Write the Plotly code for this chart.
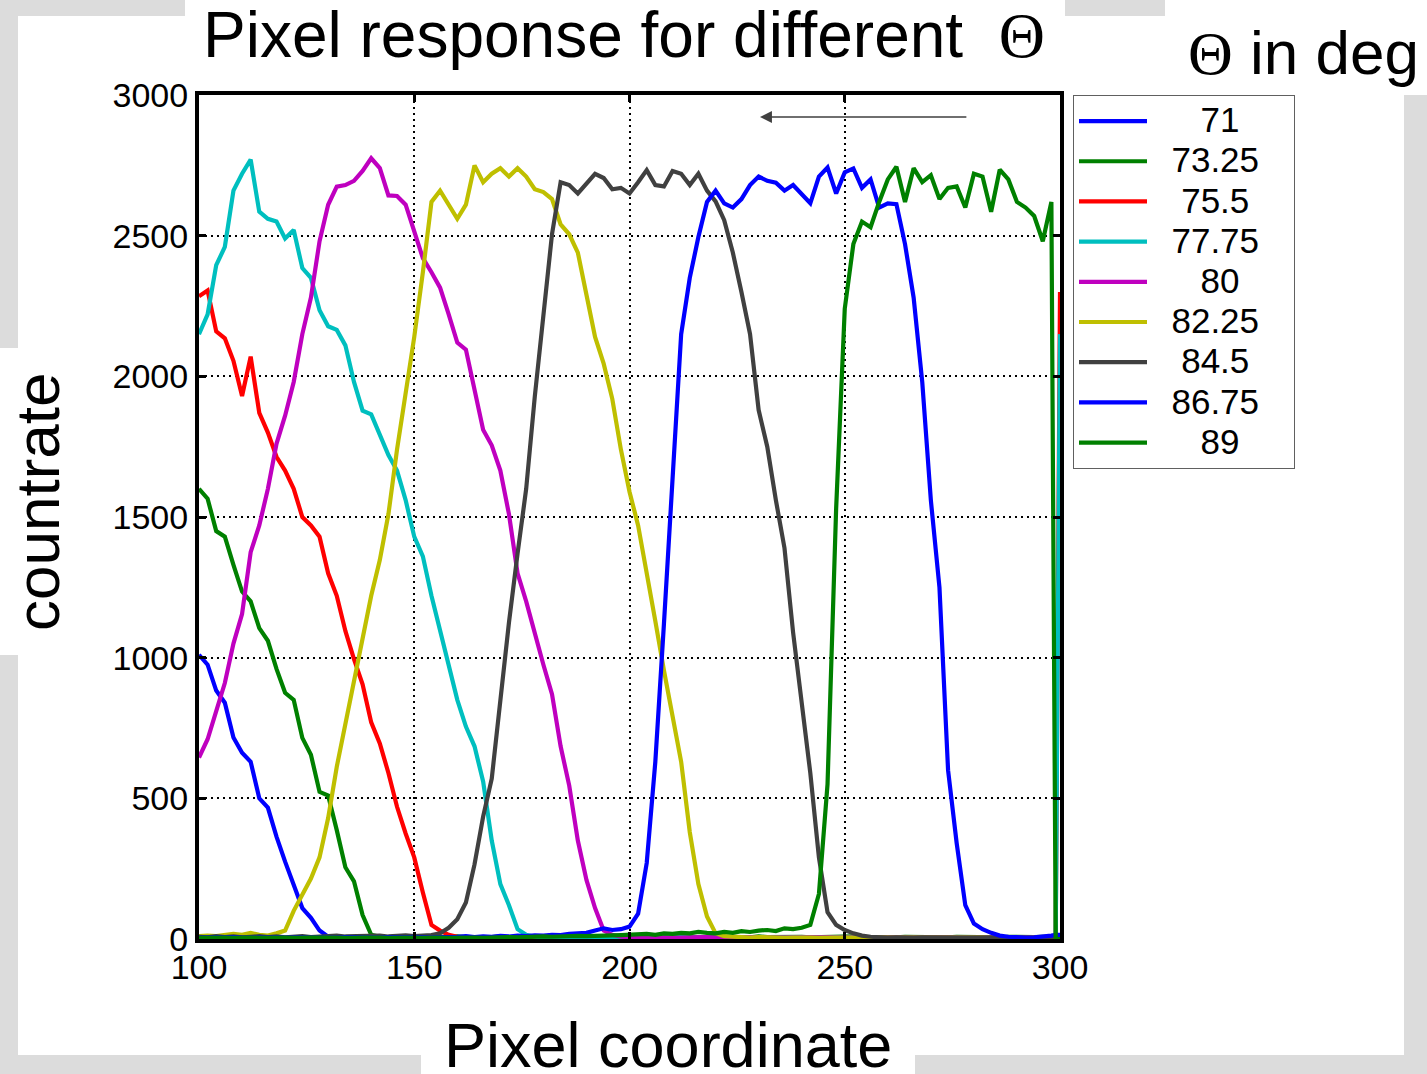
import plotly.graph_objects as go

# ---------------- data ----------------
PIXEL = list(range(100, 299, 2)) + [299, 300]

THETA_LABELS = ["71", "73.25", "75.5", "77.75", "80", "82.25", "84.5", "86.75", "89"]
LINE_COLORS = ["#0000FF", "#008000", "#FF0000", "#00BFBF", "#BF00BF",
               "#BFBF00", "#404040", "#0000FF", "#008000"]

rate_71 = [
    1010, 975, 883, 840, 716, 662, 630, 500, 467, 364,
    275, 196, 110, 75, 30, 8, 6, 5, 7, 5,
    6, 4, 5, 7, 6, 5, 4, 6, 8, 5,
    6, 5, 7, 6, 4, 5, 6, 5, 7, 6,
    5, 6, 4, 5, 7, 6, 5, 4, 6, 5,
    5, 6, 5, 4, 6, 5, 7, 5, 4, 6,
    5, 6, 5, 7, 5, 4, 6, 5, 6, 5,
    4, 6, 5, 5, 6, 4, 5, 6, 5, 4,
    6, 5, 4, 5, 6, 5, 4, 6, 5, 5,
    4, 5, 6, 5, 4, 5, 6, 5, 4, 5,
    5, 5]

rate_73_25 = [
    1600, 1565, 1450, 1430, 1330, 1235, 1200, 1105, 1060, 960,
    875, 850, 715, 655, 523, 510, 387, 255, 205, 85,
    15, 8, 6, 9, 7, 8, 10, 6, 8, 7,
    9, 7, 6, 8, 7, 9, 6, 8, 7, 6,
    8, 7, 6, 9, 7, 8, 6, 7, 8, 6,
    7, 8, 6, 7, 9, 6, 8, 7, 6, 8,
    7, 6, 8, 7, 6, 9, 7, 8, 6, 7,
    8, 6, 7, 8, 6, 7, 9, 7, 6, 8,
    7, 6, 8, 7, 6, 8, 7, 6, 8, 7,
    6, 8, 7, 6, 8, 7, 6, 7, 8, 6,
    7, 7]

rate_75_5 = [
    2285, 2305, 2160, 2135, 2055, 1930, 2070, 1870, 1800, 1714,
    1665, 1600, 1500, 1470, 1430, 1300, 1220, 1095, 995, 905,
    770, 695, 590, 470, 375, 290, 165, 50, 30, 15,
    8, 6, 5, 7, 5, 6, 4, 5, 6, 5,
    6, 5, 4, 6, 5, 7, 5, 4, 6, 5,
    5, 6, 4, 5, 6, 5, 4, 6, 5, 6,
    4, 5, 6, 5, 4, 6, 5, 5, 6, 4,
    5, 6, 5, 4, 6, 5, 5, 4, 6, 5,
    6, 4, 5, 6, 5, 4, 6, 5, 5, 6,
    4, 5, 6, 5, 4, 6, 5, 5, 4, 6,
    10, 2300]

rate_77_75 = [
    2150, 2220, 2395, 2460, 2660, 2720, 2770, 2585, 2560, 2550,
    2490, 2520, 2385, 2350, 2235, 2178, 2165, 2110, 1980, 1878,
    1865, 1790, 1720, 1665, 1560, 1430, 1360, 1220, 1100, 985,
    850, 755, 685, 560, 350, 195, 120, 35, 15, 8,
    6, 5, 7, 5, 6, 4, 5, 6, 5, 7,
    5, 6, 4, 5, 6, 5, 7, 5, 4, 6,
    5, 6, 5, 4, 6, 5, 5, 6, 4, 5,
    6, 5, 4, 5, 6, 5, 4, 6, 5, 5,
    4, 6, 5, 5, 4, 6, 5, 4, 5, 6,
    5, 4, 6, 5, 5, 4, 6, 5, 4, 5,
    5, 2150]

rate_80 = [
    645, 710, 810, 910, 1050, 1155, 1375, 1470, 1600, 1760,
    1860, 1980, 2150, 2280, 2480, 2610, 2674, 2680, 2695, 2730,
    2775, 2740, 2643, 2641, 2610, 2510, 2420, 2370, 2315, 2220,
    2120, 2095, 1960, 1810, 1755, 1665, 1510, 1300, 1200, 1080,
    975, 870, 685, 545, 350, 210, 110, 30, 15, 8,
    6, 5, 7, 5, 6, 4, 5, 6, 5, 7,
    5, 6, 4, 5, 6, 5, 4, 6, 5, 5,
    6, 4, 5, 6, 5, 4, 6, 5, 5, 6,
    4, 5, 6, 5, 4, 6, 5, 5, 4, 6,
    5, 4, 6, 5, 5, 4, 6, 5, 4, 5,
    5, 5]

rate_82_25 = [
    10, 12, 10, 15, 18, 15, 22, 15, 12, 20,
    30, 100, 160, 215, 290, 430, 612, 765, 920, 1075,
    1220, 1347, 1510, 1740, 1935, 2140, 2370, 2620, 2660, 2610,
    2560, 2610, 2750, 2690, 2720, 2740, 2710, 2740, 2710, 2665,
    2655, 2630, 2540, 2505, 2440, 2290, 2140, 2045, 1920, 1740,
    1590, 1470, 1290, 1130, 955, 800, 630, 380, 195, 80,
    20, 10, 8, 6, 5, 7, 5, 6, 4, 5,
    6, 5, 4, 6, 5, 5, 4, 6, 5, 6,
    4, 5, 6, 5, 4, 6, 5, 5, 6, 4,
    5, 6, 5, 4, 6, 5, 5, 4, 6, 5,
    5, 5]

rate_84_5 = [
    8, 6, 10, 7, 9, 6, 8, 10, 7, 9,
    6, 8, 10, 7, 9, 8, 12, 9, 10, 8,
    10, 12, 9, 11, 13, 10, 12, 14, 20, 40,
    70, 130, 265, 435, 570, 850, 1125, 1370, 1600, 1928,
    2235, 2505, 2690, 2680, 2650, 2686, 2720, 2705, 2665, 2670,
    2650, 2690, 2733, 2680, 2675, 2730, 2720, 2680, 2720, 2660,
    2622, 2555, 2440, 2300, 2150, 1880, 1750, 1560, 1390, 1090,
    830, 590, 290, 95, 50, 32, 20, 12, 8, 6,
    5, 6, 4, 5, 6, 5, 4, 6, 5, 5,
    6, 4, 5, 6, 5, 4, 6, 5, 5, 4,
    5, 5]

rate_86_75 = [
    5, 6, 4, 5, 7, 5, 6, 4, 5, 6,
    5, 7, 6, 5, 4, 6, 5, 7, 6, 5,
    6, 5, 7, 5, 6, 8, 6, 5, 7, 6,
    8, 10, 7, 9, 8, 11, 9, 12, 10, 13,
    12, 15, 14, 18, 20, 22, 30, 38, 32, 35,
    44, 90, 270, 630, 1120, 1614, 2150, 2350, 2495, 2620,
    2660, 2615, 2600, 2630, 2680, 2710, 2695, 2688, 2660, 2680,
    2650, 2615, 2710, 2742, 2650, 2725, 2739, 2670, 2700, 2600,
    2615, 2612, 2470, 2280, 1980, 1560, 1250, 600, 340, 120,
    55, 35, 22, 12, 8, 6, 5, 6, 8, 12,
    15, 15]

rate_89 = [
    4, 5, 6, 5, 4, 6, 5, 4, 5, 6,
    5, 4, 6, 5, 5, 4, 6, 5, 4, 5,
    6, 5, 4, 5, 6, 5, 4, 6, 5, 4,
    5, 6, 5, 4, 6, 5, 7, 6, 8, 7,
    9, 8, 10, 9, 11, 10, 12, 11, 13, 14,
    15, 15, 18, 15, 20, 18, 22, 20, 25, 22,
    20, 25, 22, 28, 25, 30, 32, 28, 38, 35,
    40, 50, 160, 550, 1530, 2240, 2470, 2550, 2530, 2620,
    2700, 2745, 2620, 2740, 2690, 2715, 2630, 2670, 2675, 2600,
    2720, 2710, 2585, 2735, 2700, 2620, 2600, 2570, 2480, 2620,
    0, 0]

SERIES = [rate_71, rate_73_25, rate_75_5, rate_77_75, rate_80,
          rate_82_25, rate_84_5, rate_86_75, rate_89]

X_TICKS = [100, 150, 200, 250, 300]
Y_TICKS = [0, 500, 1000, 1500, 2000, 2500, 3000]

# ---------------- geometry (pixels) ----------------
W, H = 1427, 1074
L, R, T, B = 199, 1060, 95, 939


def px_x(p):
    return (p - L) / (R - L)


def px_y(p):
    return (B - p) / (B - T)


NB = "\u00a0"
LEAD = {"71": 3, "73.25": 0, "75.5": 1, "77.75": 0, "80": 3,
        "82.25": 0, "84.5": 1, "86.75": 0, "89": 3}

fig = go.Figure()
for lab, col, vals in zip(THETA_LABELS, LINE_COLORS, SERIES):
    name = ('<span style="font-size:35px">' + NB * (2 + LEAD[lab]) + lab
            + NB * (2 + LEAD[lab]) + '</span>')
    fig.add_trace(go.Scatter(x=PIXEL, y=vals, mode="lines", name=name,
                             line=dict(color=col, width=4.2)))

# background frame: gray paper with white panels
shapes = []
white_boxes = [(18, 16, 1404, 1055), (185, 0, 1065, 16), (1165, 0, 1427, 95),
               (0, 348, 18, 655), (421, 1055, 915, 1074)]
for x0, y0, x1, y1 in white_boxes:
    shapes.append(dict(type="rect", xref="paper", yref="paper",
                       x0=px_x(x0), x1=px_x(x1), y0=px_y(y1), y1=px_y(y0),
                       fillcolor="white", line=dict(width=0), layer="below"))

THETA = '<span style="font-family:\'Liberation Serif\'">\u0398</span>'
annotations = [
    dict(text="Pixel response for different" + NB + NB + THETA,
         x=px_x(624), y=px_y(35), xref="paper", yref="paper",
         xanchor="center", yanchor="middle", showarrow=False,
         font=dict(size=64, color="black")),
    dict(text=THETA + " in deg",
         x=px_x(1303), y=px_y(52), xref="paper", yref="paper",
         xanchor="center", yanchor="middle", showarrow=False,
         font=dict(size=62, color="black")),
    dict(text="countrate", textangle=-90,
         x=px_x(38), y=px_y(502), xref="paper", yref="paper",
         xanchor="center", yanchor="middle", showarrow=False,
         font=dict(size=62, color="black")),
    dict(text="Pixel coordinate",
         x=px_x(668), y=px_y(1045), xref="paper", yref="paper",
         xanchor="center", yanchor="middle", showarrow=False,
         font=dict(size=63, color="black")),
    dict(text="", x=230.3, y=2922, ax=278.6, ay=2922, axref="x", ayref="y",
         xref="x", yref="y", showarrow=True, arrowhead=2, arrowsize=1.6,
         arrowwidth=1.5, arrowcolor="#404040"),
]

axis_common = dict(
    showgrid=True, gridcolor="black", gridwidth=1.5, griddash="2px,4px",
    showline=True, linecolor="black", linewidth=4, mirror="ticks",
    ticks="inside", ticklen=7, tickwidth=3, tickcolor="black",
    zeroline=False, tickfont=dict(size=34, color="black"),
)

fig.update_layout(
    width=W, height=H, autosize=False,
    margin=dict(l=L, r=W - R, t=T, b=H - B, pad=0),
    paper_bgcolor="#dcdcdc", plot_bgcolor="white",
    font=dict(family="Liberation Sans", color="black"),
    xaxis=dict(range=[100, 300], tickvals=X_TICKS, ticktext=[str(v) for v in X_TICKS],
               ticklabelstandoff=-5, **axis_common),
    yaxis=dict(range=[0, 3000], tickvals=Y_TICKS, ticktext=[str(v) for v in Y_TICKS],
               **axis_common),
    legend=dict(x=px_x(1073), y=1.0, xanchor="left", yanchor="top",
                bgcolor="white", bordercolor="#606060", borderwidth=1,
                font=dict(family="Liberation Sans", size=28.6, color="black"),
                itemwidth=68, tracegroupgap=0, traceorder="normal"),
    showlegend=True,
    shapes=shapes,
    annotations=annotations,
)

fig.write_html("out.html")
